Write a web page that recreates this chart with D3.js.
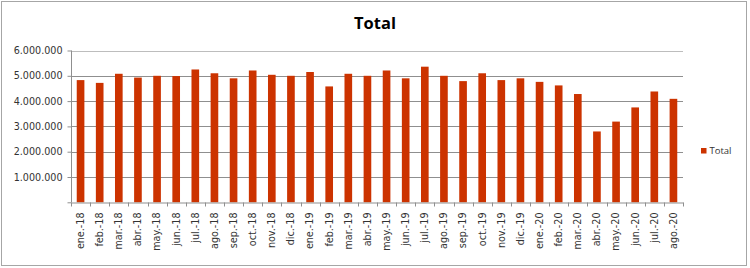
<!DOCTYPE html>
<html><head><meta charset="utf-8">
<script src="https://cdn.jsdelivr.net/npm/d3@7"></script>
<style>html,body{margin:0;padding:0;background:#fff;}svg{display:block;}</style>
</head><body>
<svg id="c" width="750" height="268"></svg>
<script>
const categories = ["ene.-18","feb.-18","mar.-18","abr.-18","may.-18","jun.-18","jul.-18","ago.-18","sep.-18","oct.-18","nov.-18","dic.-18",
  "ene.-19","feb.-19","mar.-19","abr.-19","may.-19","jun.-19","jul.-19","ago.-19","sep.-19","oct.-19","nov.-19","dic.-19",
  "ene.-20","feb.-20","mar.-20","abr.-20","may.-20","jun.-20","jul.-20","ago.-20"];
const totals = [4830000,4720000,5080000,4930000,5000000,4990000,5250000,5100000,4900000,5210000,5040000,5000000,
  5150000,4580000,5080000,5000000,5210000,4900000,5360000,5000000,4790000,5100000,4830000,4900000,
  4760000,4620000,4280000,2800000,3190000,3750000,4380000,4090000];
const yTicks = [1000000,2000000,3000000,4000000,5000000,6000000];
const seriesName = "Total";
const title = "Total";

const svg = d3.select("#c");
const mLeft = 71, mRight = 683, mTop = 50.5, mBottom = 202.3;
const font = "DejaVu Sans, Verdana, sans-serif";

svg.append("rect").attr("x",1.5).attr("y",1.5).attr("width",745).attr("height",264)
  .attr("fill","#fff").attr("stroke","#a6a6a6").attr("stroke-width",1);

const x = d3.scaleBand().domain(categories).range([mLeft,mRight]).paddingInner(0.6).paddingOuter(0.3);
const y = d3.scaleLinear().domain([0,6000000]).range([mBottom,mTop]);

// gridlines
svg.append("g").selectAll("line").data(yTicks).join("line")
  .attr("x1",mLeft).attr("x2",mRight)
  .attr("y1",d=>Math.round(y(d))+0.5).attr("y2",d=>Math.round(y(d))+0.5)
  .attr("stroke",d=>d===6000000?"#bdbdbd":"#8f8f8f").attr("stroke-width",1);

// bars
svg.append("g").selectAll("rect").data(totals).join("rect")
  .attr("x",(d,i)=>x(categories[i]))
  .attr("width",x.bandwidth())
  .attr("y",d=>y(d))
  .attr("height",d=>y(0)-y(d))
  .attr("fill","#cc3300");

// y axis
const fmt = d=>d3.format(",")(d).replace(/,/g,".");
const ya = d3.axisLeft(y).tickValues([0].concat(yTicks)).tickSize(4).tickPadding(5)
  .tickFormat(d=>d===0?"":fmt(d));
const gy = svg.append("g").attr("transform",`translate(${mLeft+0.5},0)`).call(ya);
gy.select(".domain").attr("stroke","#8f8f8f").attr("d",`M0,${y(6000000)}V${mBottom}`);
gy.selectAll(".tick line").attr("stroke","#8f8f8f");
gy.selectAll("text").attr("font-family",font).attr("font-size","9.6px").attr("fill","#333");

// x axis
const xa = d3.axisBottom(x).tickSize(0).tickSizeOuter(0);
const gx = svg.append("g").attr("transform",`translate(0,${Math.round(mBottom)+0.5})`).call(xa);
gx.select(".domain").attr("stroke","#8f8f8f");
gx.selectAll(".tick text")
  .attr("font-family",font).attr("font-size","9.6px").attr("fill","#333")
  .attr("text-anchor","end").attr("transform","rotate(-90)")
  .attr("x",-10).attr("y",0).attr("dy","0.35em");
// category boundary ticks
const bounds = d3.range(categories.length+1).map(i=>mLeft + i*(mRight-mLeft)/categories.length);
gx.append("g").selectAll("line").data(bounds).join("line")
  .attr("x1",d=>Math.round(d)+0.5).attr("x2",d=>Math.round(d)+0.5)
  .attr("y1",0).attr("y2",4).attr("stroke","#8f8f8f");

// title
svg.append("text").attr("x",375).attr("y",29).attr("text-anchor","middle")
  .attr("font-family","'Open Sans', sans-serif").attr("font-weight","bold")
  .attr("font-size","16.5px").attr("fill","#000").text(title);

// legend
const lg = svg.append("g").attr("transform","translate(701,148)");
lg.append("rect").attr("width",5.5).attr("height",5.5).attr("fill","#cc3300");
lg.append("text").attr("x",8.5).attr("y",3).attr("dy","0.35em")
  .attr("font-family","'Open Sans', sans-serif").attr("font-size","9.5px").attr("fill","#333").text(seriesName);
</script>
</body></html>
